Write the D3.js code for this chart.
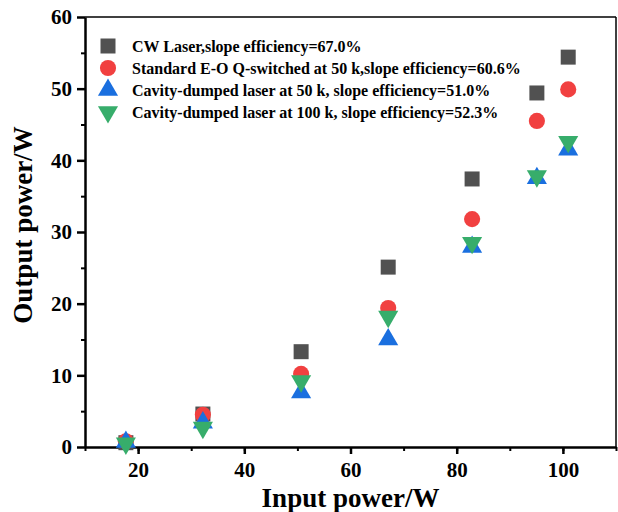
<!DOCTYPE html>
<html>
<head>
<meta charset="utf-8">
<script src="https://cdn.jsdelivr.net/npm/d3@7"></script>
<style>
  body { margin: 0; background: #fff; }
  text { font-family: "Liberation Serif", "Times New Roman", serif; font-weight: bold; }
</style>
</head>
<body>
<svg id="chart" width="618" height="512"></svg>
<script>
// input power (W)
const inputPower = [17.7, 32.2, 50.7, 67.1, 82.9, 95.1, 101];

const cwLaser = [0.6, 4.6, 13.3, 25.1, 37.4, 49.4, 54.4];
const eoQSwitched = [0.8, 4.5, 10.2, 19.4, 31.8, 45.5, 49.9];
const dumped50k = [0.7, 3.4, 7.6, 15.0, 27.9, 37.5, 41.5];
const dumped100k = [0.5, 2.7, 9.2, 18.2, 28.5, 37.8, 42.6];

const seriesNames = [
    "CW Laser,slope efficiency=67.0%",
    "Standard E-O Q-switched at 50 k,slope efficiency=60.6%",
    "Cavity-dumped laser at 50 k, slope efficiency=51.0%",
    "Cavity-dumped laser at 100 k, slope efficiency=52.3%"
];

const xTicks = [20, 40, 60, 80, 100];
const yTicks = [0, 10, 20, 30, 40, 50, 60];

const svg = d3.select("#chart");

const x = d3.scaleLinear().domain([10, 110]).range([85, 616]);
const y = d3.scaleLinear().domain([0, 60]).range([447, 17]);

// marker shapes, Origin style
const shapes = [
    { color: "#515151", symbol: d3.symbolSquare, size: 225, rotate: 0 },
    { color: "#F14040", symbol: d3.symbolCircle, size: 205, rotate: 0 },
    { color: "#1A6FDF", symbol: d3.symbolTriangle, size: 175, rotate: 0 },
    { color: "#37AD6B", symbol: d3.symbolTriangle, size: 175, rotate: 180 }
];

const allSeries = [cwLaser, eoQSwitched, dumped50k, dumped100k];

// frame
svg.append("line")
    .attr("x1", x(10)).attr("x2", x(110))
    .attr("y1", y(60)).attr("y2", y(60))
    .attr("stroke", "#000").attr("stroke-width", 1.5);
svg.append("line")
    .attr("x1", x(110)).attr("x2", x(110))
    .attr("y1", y(60)).attr("y2", y(0))
    .attr("stroke", "#000").attr("stroke-width", 1.5);

// minor ticks first, then major axes on top
svg.append("g")
    .attr("transform", `translate(0,${y(0)})`)
    .call(d3.axisBottom(x).tickValues(d3.range(10, 111, 10)).tickSize(4).tickFormat(""))
    .call(g => g.select(".domain").remove())
    .call(g => g.selectAll("line").attr("stroke-width", 2));

svg.append("g")
    .attr("transform", `translate(${x(10)},0)`)
    .call(d3.axisLeft(y).tickValues(d3.range(5, 60, 10)).tickSize(4).tickFormat(""))
    .call(g => g.select(".domain").remove())
    .call(g => g.selectAll("line").attr("stroke-width", 2));

const xAxis = svg.append("g")
    .attr("transform", `translate(0,${y(0)})`)
    .call(d3.axisBottom(x).tickValues(xTicks).tickSize(7).tickSizeOuter(0).tickPadding(8));
xAxis.select(".domain").attr("stroke-width", 2.5);
xAxis.selectAll(".tick line").attr("stroke-width", 2.5);
xAxis.selectAll(".tick text").attr("font-size", 21).attr("fill", "#000");

const yAxis = svg.append("g")
    .attr("transform", `translate(${x(10)},0)`)
    .call(d3.axisLeft(y).tickValues(yTicks).tickSize(8).tickSizeOuter(0).tickPadding(5));
yAxis.select(".domain").attr("stroke-width", 2.5);
yAxis.selectAll(".tick line").attr("stroke-width", 2.5);
yAxis.selectAll(".tick text").attr("font-size", 21).attr("fill", "#000");

// axis titles
svg.append("text")
    .attr("x", (x(10) + x(110)) / 2)
    .attr("y", 507)
    .attr("text-anchor", "middle")
    .attr("font-size", 27)
    .text("Input power/W");

svg.append("text")
    .attr("transform", `translate(32,${(y(0) + y(60)) / 2 - 7}) rotate(-90)`)
    .attr("text-anchor", "middle")
    .attr("font-size", 27)
    .text("Output power/W");

// points
allSeries.forEach((vals, i) => {
    const s = shapes[i];
    const path = d3.symbol().type(s.symbol).size(s.size)();
    svg.append("g")
        .selectAll("path")
        .data(vals)
        .join("path")
        .attr("d", path)
        .attr("fill", s.color)
        .attr("transform", (d, j) => `translate(${x(inputPower[j])},${y(d)}) rotate(${s.rotate})`);
});

// legend
const legend = svg.append("g").attr("transform", "translate(108,46)");
seriesNames.forEach((name, i) => {
    const s = shapes[i];
    const row = legend.append("g").attr("transform", `translate(0,${i * 22})`);
    row.append("path")
        .attr("d", d3.symbol().type(s.symbol).size(s.size)())
        .attr("fill", s.color)
        .attr("transform", `rotate(${s.rotate})`);
    row.append("text")
        .attr("x", 24)
        .attr("y", 5.5)
        .attr("font-size", 16)
        .text(name);
});
</script>
</body>
</html>
